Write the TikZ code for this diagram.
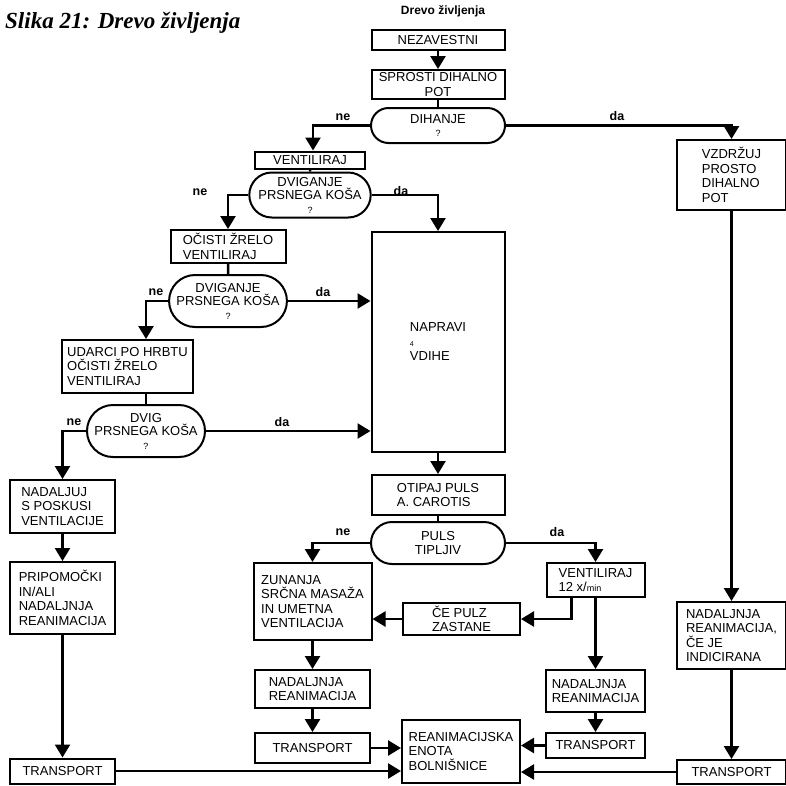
\documentclass[tikz,border=0pt]{standalone}
\usepackage{fontspec}
\setmainfont{Liberation Sans}
\newfontfamily\titlefont{Liberation Serif}
\usetikzlibrary{arrows.meta,shapes.misc}
\newcommand\qmk{{\fontsize{9}{9}\selectfont ?}}
\begin{document}
\begin{tikzpicture}[x=1pt,y=-1pt,
 box/.style={draw, line width=2pt, rectangle, inner sep=0pt, align=left, font=\fontsize{13}{14.5}\selectfont},
 dec/.style={draw, line width=2pt, rounded rectangle, inner sep=0pt, align=center, font=\fontsize{13}{13.5}\selectfont},
 con/.style={line width=2.5pt},
 arr/.style={con, -{Triangle[width=15pt,length=13pt]}},
 lab/.style={font=\bfseries\fontsize{12.5}{14}\selectfont, inner sep=0pt}
]
\useasboundingbox (0,0) rectangle (786,785);
\node[anchor=base west, inner sep=0pt, font=\titlefont\bfseries\itshape\fontsize{23}{26}\selectfont] (title) at (5,28) {Slika 21: Drevo življenja};
\node[inner sep=0pt, font=\bfseries\fontsize{12}{14}\selectfont] (head) at (443,11) {Drevo življenja};

\node[box, minimum width=133pt, minimum height=20pt] (nez) at (438,40) {NEZAVESTNI};
\node[box, align=center, minimum width=133pt, minimum height=29pt] (spr) at (438,84.5) {SPROSTI DIHALNO\\POT};
\node[dec, minimum width=134pt, minimum height=35pt] (dih) at (438,125.5) {DIHANJE\\\qmk};
\node[box, minimum width=110pt, minimum height=17pt] (ven1) at (310,160) {VENTILIRAJ};
\node[dec, minimum width=116pt, minimum height=45pt] (dv1) at (310,195) {DVIGANJE\\PRSNEGA KOŠA\\\qmk};
\node[box, minimum width=115pt, minimum height=33pt] (oc) at (228,246.5) {OČISTI ŽRELO\\VENTILIRAJ};
\node[box, minimum width=133pt, minimum height=220pt] (nap) at (438,342) {NAPRAVI\\{\scriptsize 4}\\VDIHE};
\node[dec, minimum width=117pt, minimum height=52pt] (dv2) at (228,301) {DVIGANJE\\PRSNEGA KOŠA\\\qmk};
\node[box, minimum width=131pt, minimum height=53pt] (ud) at (127.5,366.5) {UDARCI PO HRBTU\\OČISTI ŽRELO\\VENTILIRAJ};
\node[dec, minimum width=118pt, minimum height=52pt] (dv3) at (146,431) {DVIG\\PRSNEGA KOŠA\\\qmk};
\node[box, minimum width=105pt, minimum height=53pt] (nadj) at (62.5,506.5) {NADALJUJ\\S POSKUSI\\VENTILACIJE};
\node[box, minimum width=105pt, minimum height=72pt] (prip) at (62.5,598) {PRIPOMOČKI\\IN/ALI\\NADALJNJA\\REANIMACIJA};
\node[box, minimum width=105pt, minimum height=25pt] (trL) at (62.5,771) {TRANSPORT};
\node[box, minimum width=109pt, minimum height=70pt] (vz) at (731.5,175) {VZDRŽUJ\\PROSTO\\DIHALNO\\POT};
\node[box, minimum width=109pt, minimum height=67pt] (nadI) at (731.5,635.5) {NADALJNJA\\REANIMACIJA,\\ČE JE\\INDICIRANA};
\node[box, minimum width=109pt, minimum height=24pt] (trR) at (731.5,772) {TRANSPORT};
\node[box, minimum width=133pt, minimum height=40pt] (ot) at (438,495) {OTIPAJ PULS\\A. CAROTIS};
\node[dec, minimum width=134pt, minimum height=42pt] (puls) at (438,543) {PULS\\TIPLJIV};
\node[box, minimum width=118pt, minimum height=77pt] (zun) at (312.5,601.5) {ZUNANJA\\SRČNA MASAŽA\\IN UMETNA\\VENTILACIJA};
\node[box, minimum width=98pt, minimum height=34pt] (v12) at (595.5,580) {VENTILIRAJ\\12 x/{\small min}};
\node[box, minimum width=117pt, minimum height=32pt] (ce) at (461.5,619) {ČE PULZ\\ZASTANE};
\node[box, minimum width=115pt, minimum height=38pt] (nadM) at (312.5,689) {NADALJNJA\\REANIMACIJA};
\node[box, minimum width=115pt, minimum height=30pt] (trML) at (312.5,748) {TRANSPORT};
\node[box, minimum width=99pt, minimum height=42pt] (nadR) at (595.5,691) {NADALJNJA\\REANIMACIJA};
\node[box, minimum width=99pt, minimum height=25pt] (trMR) at (595.5,745.5) {TRANSPORT};
\node[box, minimum width=118pt, minimum height=63pt] (rean) at (461,751.5) {REANIMACIJSKA\\ENOTA\\BOLNIŠNICE};

\node[lab] (ne1) at (343,117) {ne};
\node[lab] (da1) at (617,116) {da};
\node[lab] (ne2) at (200,192) {ne};
\node[lab] (da2) at (401,191) {da};
\node[lab] (ne3) at (156,292) {ne};
\node[lab] (da3) at (323,292) {da};
\node[lab] (ne4) at (74,422) {ne};
\node[lab] (da4) at (282,422) {da};
\node[lab] (ne5) at (343,532) {ne};
\node[lab] (da5) at (557,532) {da};

\draw[arr] (nez) -- (spr);
\draw[con] (spr) -- (dih);
\draw[arr] (dih.west) -| ([xshift=3pt]ven1.north);
\draw[arr] (dih.east) -| (vz.north);
\draw[con] (ven1) -- (dv1);
\draw[arr] (dv1.west) -| (oc.north);
\draw[arr] (dv1.east) -| (nap.north);
\draw[con] (oc) -- (dv2);
\draw[arr] (dv2.west) -| (dv3.north |- ud.north);
\draw[arr] (dv2.east) -- (dv2.east -| nap.west);
\draw[con] (dv3.north |- ud.south) -- (dv3.north);
\draw[arr] (dv3.west) -| (nadj.north);
\draw[arr] (dv3.east) -- (dv3.east -| nap.west);
\draw[arr] (nadj) -- (prip);
\draw[arr] (prip) -- (trL);
\draw[arr] (trL.east) -- (trL.east -| rean.west);
\draw[arr] (nap) -- (ot);
\draw[con] (ot) -- (puls);
\draw[arr] (puls.west) -| (zun.north);
\draw[arr] (puls.east) -| (v12.north);
\draw[arr] ([xshift=-24pt]v12.south) |- (ce.east);
\draw[arr] (ce.west) -- (ce.west -| zun.east);
\draw[arr] (v12) -- (nadR);
\draw[arr] (nadR) -- (trMR);
\draw[arr] (trMR.west) -- (trMR.west -| rean.east);
\draw[arr] (zun) -- (nadM);
\draw[arr] (nadM) -- (trML);
\draw[arr] (trML.east) -- (trML.east -| rean.west);
\draw[arr] (vz) -- (nadI);
\draw[arr] (nadI) -- (trR);
\draw[arr] (trR.west) -- (trR.west -| rean.east);
\end{tikzpicture}
\end{document}
